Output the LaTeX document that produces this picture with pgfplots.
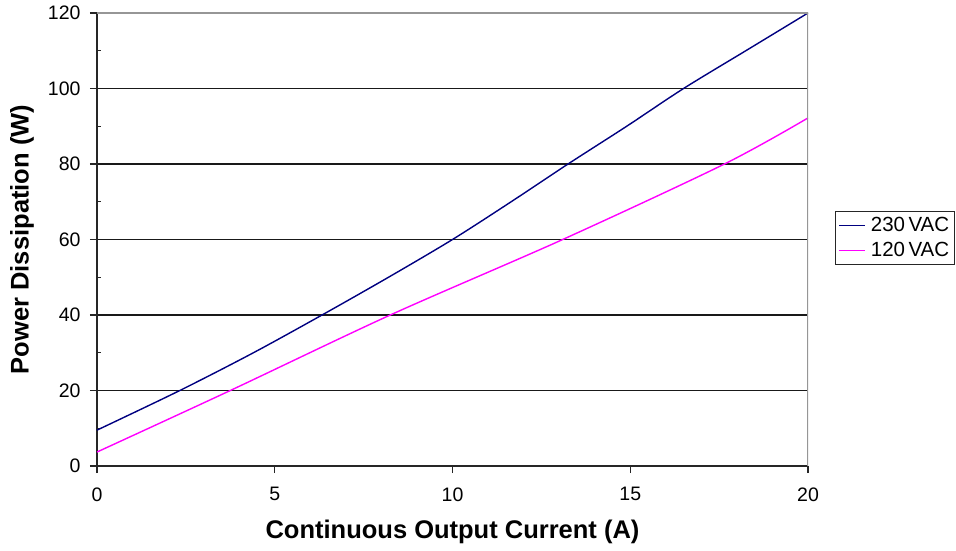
\documentclass[border=0pt]{standalone}
\usepackage{fontspec}
\setmainfont{Liberation Sans}
\usepackage{pgfplots}
\pgfplotsset{compat=1.18}
\definecolor{navyline}{RGB}{0,0,128}
\definecolor{magline}{RGB}{255,0,255}
\definecolor{bordergray}{RGB}{150,150,150}
\begin{document}
\begin{tikzpicture}
\begin{axis}[
  name=ax,
  scale only axis,
  width=711bp, height=453bp,
  xmin=0, xmax=20, ymin=0, ymax=120,
  xtick={0,5,10,15,20},
  ytick={0,20,40,60,80,100,120},
  minor y tick num=1,
  axis lines=left,
  axis line style={-, line width=1.8bp, black!85},
  tick align=outside,
  major tick length=7bp,
  minor tick length=4bp,
  every minor tick/.append style={xshift=4bp},
  tick style={line width=1.3bp, black!85},
  ymajorgrids,
  grid style={line width=1.8bp, black!90},
  /pgf/number format/assume math mode=true,
  tick label style={font=\fontsize{19.5bp}{22bp}\selectfont},
  yticklabel style={xshift=-6bp},
  xticklabel style={yshift=-11bp},
  xlabel={\textbf{Continuous Output Current (A)}},
  ylabel={\textbf{Power Dissipation (W)}},
  label style={font=\fontsize{25.5bp}{30bp}\selectfont},
  xlabel style={at={(axis description cs:0.5,-0.146)}, anchor=center},
  ylabel style={at={(axis description cs:-0.1055,0.5)}, anchor=center},
  legend style={at={(rel axis cs:1.038,0.563)}, anchor=north west,
    draw=black!85, line width=1.2bp, font=\fontsize{20.5bp}{24bp}\selectfont,
    inner xsep=3bp, inner ysep=4bp, row sep=5bp,
    /tikz/every odd column/.style={column sep=3bp}},
  legend cell align=left,
  legend image code/.code={\draw[#1, line width=1.3bp] (0bp,0bp) -- (26bp,0bp);},
]
\addplot[navyline, line width=1.4bp, smooth] coordinates {
  (0,9.5) (2.33,20) (4.4,30) (6.33,40) (8.2,50) (10,60) (11.65,70)
  (13.25,80) (14.9,90) (16.5,100) (18.25,110) (20,120)
};
\addlegendentry{230\,VAC}
\addplot[magline, line width=1.4bp, smooth] coordinates {
  (0,3.7) (3.75,20) (8.25,40) (13.1,60) (17.65,80) (20,92.2)
};
\addlegendentry{120\,VAC}
\draw[bordergray, line width=1.6bp] (rel axis cs:0,1) -- (rel axis cs:1,1) -- (rel axis cs:1,0);
\end{axis}
\pgfresetboundingbox
\path[use as bounding box] ([shift={(-97bp,-85bp)}]ax.south west) rectangle ([shift={(148bp,13bp)}]ax.north east);
\end{tikzpicture}
\end{document}
